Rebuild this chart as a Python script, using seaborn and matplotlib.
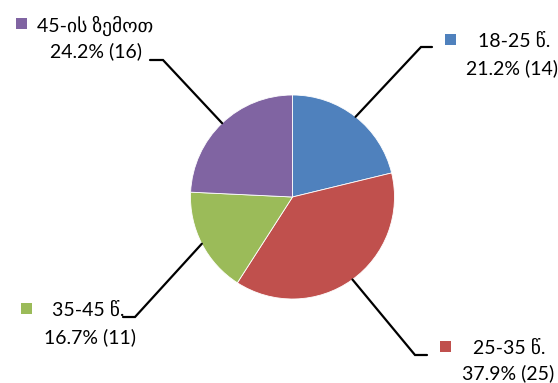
import matplotlib
matplotlib.use("Agg")
import matplotlib.pyplot as plt
import seaborn as sns
import numpy as np
from matplotlib.patches import Rectangle

# ---- data ----
categories = ["18-25 წ.", "25-35 წ.", "35-45 წ.", "45-ის ზემოთ"]
counts = [14, 25, 11, 16]
colors = ["#4F81BD", "#C0504D", "#9BBB59", "#8064A2"]

sns.set_theme(style="white")
plt.rcParams['font.family'] = ['Lato', 'DejaVu Sans']

W, H = 558, 383
fig = plt.figure(figsize=(W / 100, H / 100), dpi=100)
ax = fig.add_axes([0, 0, 1, 1])

cx, cy, R = 292.5, H - 197, 102
wedges, _ = ax.pie(counts, colors=sns.color_palette(colors), startangle=90,
                   counterclock=False, center=(cx, cy), radius=R,
                   wedgeprops=dict(edgecolor="white", linewidth=0.6))
ax.set_xlim(0, W)
ax.set_ylim(0, H)
ax.set_aspect("equal")
ax.axis("off")

total = sum(counts)
# layout per label (pixel coords from top-left): leader start angle override, elbow, end,
# square centre, line1 centre, line2 centre
layout = [
    dict(ang=None, elbow=(421, 47), end=(432, 47), sq=(450, 39), l1=(514, 41.5), l2=(512.5, 68)),
    dict(ang=-54, elbow=(415, 355), end=(427, 355), sq=(445, 346.5), l1=(509.5, 348.5), l2=(508, 373.5)),
    dict(ang=None, elbow=(135, 317), end=(123, 317), sq=(26.5, 308.5), l1=(88, 310), l2=(90, 337)),
    dict(ang=None, elbow=(163, 60), end=(150, 60), sq=(21.5, 23.5), l1=(95, 26), l2=(96, 51)),
]

fs = 14
for w, cat, n, col, L in zip(wedges, categories, counts, colors, layout):
    a = L["ang"] if L["ang"] is not None else (w.theta1 + w.theta2) / 2
    sx = cx + R * np.cos(np.radians(a))
    sy = cy + R * np.sin(np.radians(a))
    ex, ey = L["elbow"]
    fx, fy = L["end"]
    ax.plot([sx, ex, fx], [sy, H - ey, H - fy], color="black", lw=1.6,
            solid_joinstyle="miter", zorder=3)
    s = 11
    qx, qy = L["sq"]
    ax.add_patch(Rectangle((qx - s / 2, H - qy - s / 2), s, s, color=col, lw=0))
    ax.text(L["l1"][0], H - L["l1"][1], cat, ha="center", va="center",
            fontsize=fs, color="black")
    ax.text(L["l2"][0], H - L["l2"][1], f"{100 * n / total:.1f}% ({n})",
            ha="center", va="center", fontsize=fs, color="black")

fig.savefig("out.png", dpi=100)
